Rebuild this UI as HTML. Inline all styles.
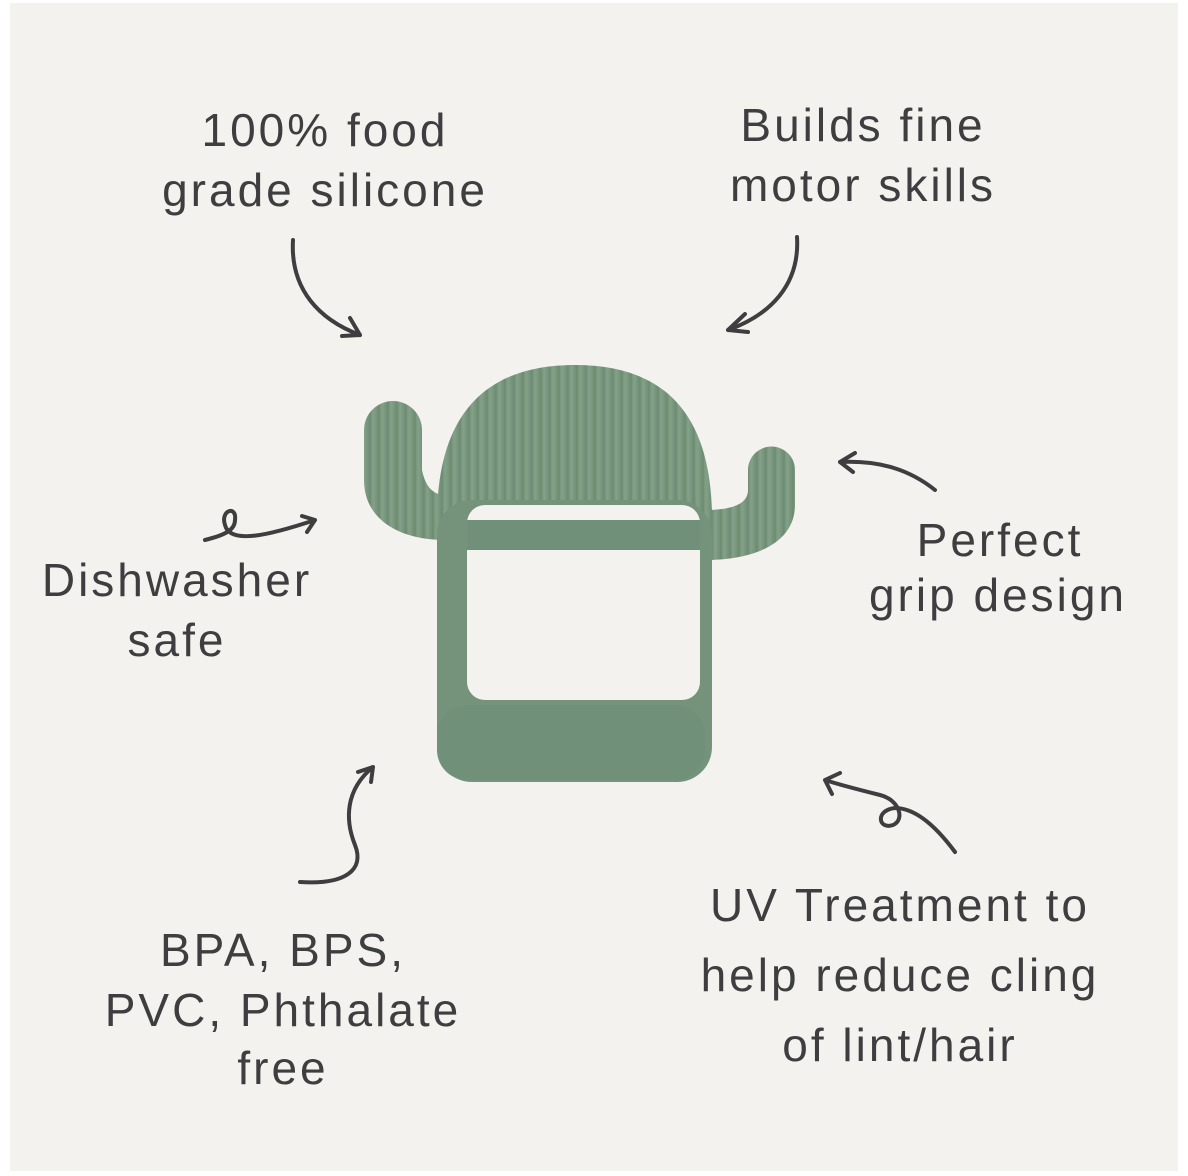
<!DOCTYPE html>
<html><head><style>
body{margin:0;width:1188px;height:1176px;background:#fff;position:relative;overflow:hidden}
#bg{position:absolute;left:10px;top:3px;width:1168px;height:1168px;background:#f3f2ee}
.t{position:absolute;font-family:"Liberation Sans",sans-serif;font-size:46px;color:#3e3e40;letter-spacing:3px;text-align:center;line-height:60px;white-space:nowrap;transform:translateX(-50%)}
</style></head><body>
<div id="bg"></div>
<svg width="1188" height="1176" style="position:absolute;left:0;top:0">
<defs><linearGradient id="g" x1="0" x2="1"><stop offset="0" stop-color="#6f8e74"/><stop offset=".5" stop-color="#83a187"/><stop offset="1" stop-color="#728f77"/></linearGradient>
<pattern id="r" width="9" height="10" patternUnits="userSpaceOnUse"><rect width="9" height="10" fill="url(#g)"/><rect width="2" height="10" fill="#6a886f" opacity=".4"/></pattern></defs>
<g fill="none" stroke="#3e3e40" stroke-width="4" stroke-linecap="round">
<path d="M293,240 C290,290 320,320 360,335 M360,335 L350,318 M360,335 L342,336"/>
<path d="M797,237 C800,285 770,315 728,330 M728,330 L745,314 M728,330 L748,332"/>
<path d="M935,490 C910,470 880,460 840,462 M840,462 L855,453 M840,462 L853,472"/>
<path d="M205,540 C225,535 235,530 235,520 C237,505 220,510 225,525 C230,545 270,535 315,520 M315,520 L302,516 M315,520 L307,532"/>
<path d="M300,882 C345,885 365,870 355,845 C345,820 345,790 373,767 M373,767 L358,772 M373,767 L371,782"/>
<path d="M955,852 C935,825 915,808 895,808 C875,810 878,830 893,825 C905,820 900,800 880,795 C860,790 840,785 825,780 M825,780 L840,773 M825,780 L832,794"/>
</g>
<g>
<path d="M364,430 a29,29 0 0 1 58,0 L422,470 C426,490 436,495 445,495 L445,540 C400,540 364,520 364,480 Z" fill="url(#r)"/>
<path d="M748,470 a23.5,23.5 0 0 1 47,0 L795,505 C795,540 760,560 705,560 L705,510 C730,510 748,505 748,490 Z" fill="url(#r)"/>
<path d="M437,520 C437,420 480,365 575,365 C670,365 712,420 712,520 Z" fill="url(#r)"/>
<rect x="437" y="500" width="275" height="282" rx="35" fill="#74937a"/>
<rect x="467" y="505" width="233" height="195" rx="18" fill="#f3f2ee"/>
<rect x="467" y="520" width="233" height="30" fill="#71907a"/>
<rect x="437" y="705" width="268" height="75" rx="30" fill="#71907a"/>
</g>
</svg>
<div class="t" style="left:325px;top:100px">100% food</div>
<div class="t" style="left:325px;top:160px">grade silicone</div>
<div class="t" style="left:863px;top:95px">Builds fine</div>
<div class="t" style="left:863px;top:155px">motor skills</div>
<div class="t" style="left:177px;top:550px">Dishwasher</div>
<div class="t" style="left:177px;top:610px">safe</div>
<div class="t" style="left:1000px;top:510px">Perfect</div>
<div class="t" style="left:998px;top:565px">grip design</div>
<div class="t" style="left:283px;top:920px">BPA, BPS,</div>
<div class="t" style="left:283px;top:980px">PVC, Phthalate</div>
<div class="t" style="left:283px;top:1038px">free</div>
<div class="t" style="left:900px;top:875px">UV Treatment to</div>
<div class="t" style="left:900px;top:945px">help reduce cling</div>
<div class="t" style="left:900px;top:1015px">of lint/hair</div>
</body></html>
